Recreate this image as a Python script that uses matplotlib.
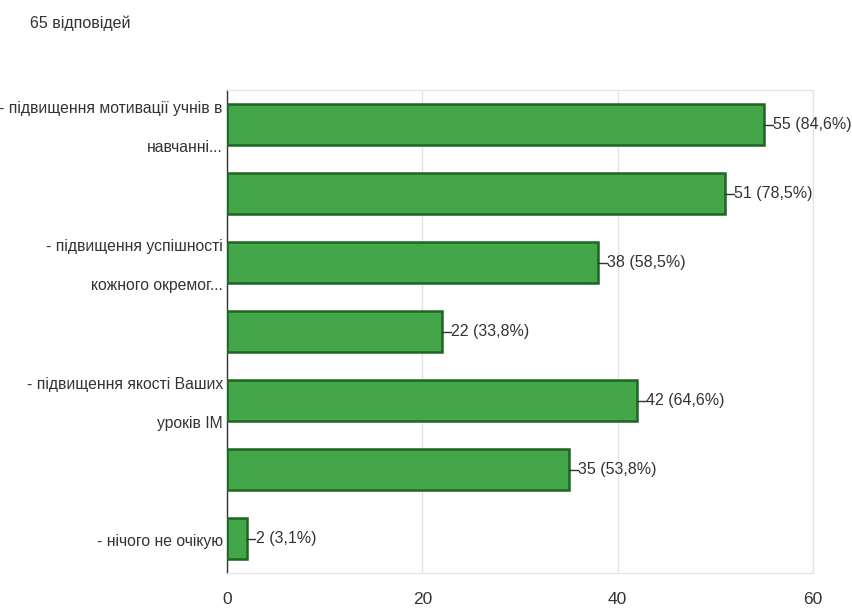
import matplotlib
matplotlib.use("Agg")
import matplotlib.pyplot as plt

# --- DATA ---
labels = [
    ["- підвищення мотивації учнів в", "навчанні..."],
    [],
    ["- підвищення успішності", "кожного окремог..."],
    [],
    ["- підвищення якості Ваших", "уроків ІМ"],
    [],
    ["- нічого не очікую"],
]
counts = [55, 51, 38, 22, 42, 35, 2]
percents = ["84,6%", "78,5%", "58,5%", "33,8%", "64,6%", "53,8%", "3,1%"]
total_text = "65 відповідей"
xticks = [0, 20, 40, 60]

plt.rcParams["font.family"] = ["Liberation Sans", "DejaVu Sans"]
TXT = "#333333"

fig = plt.figure(figsize=(8.52, 6.16), dpi=100)
ax = fig.add_axes([0.2664, 0.0698, 0.6878, 0.784])

ypos = list(range(len(counts)))
ax.barh(ypos, counts, height=0.6, color="#43a649", edgecolor="#1f6523",
        linewidth=1.8, zorder=3)

# value labels with small leader line
for y, c, p in zip(ypos, counts, percents):
    ax.plot([c, c + 0.9], [y, y], color=TXT, lw=1.0, zorder=4, clip_on=False)
    ax.text(c + 0.95, y, f"{c} ({p})", va="center", ha="left",
            fontsize=11.5, color=TXT)

# category labels (two lines, spaced like the original)
for y, lines in zip(ypos, labels):
    if len(lines) == 1:
        offs = [-2.5]
    else:
        offs = [11.5, -16.5]
    for line, off in zip(lines, offs):
        ax.annotate(line, xy=(0, y), xycoords=("axes fraction", "data"),
                    xytext=(-3, off), textcoords="offset points",
                    ha="right", va="center", fontsize=11.3, color=TXT)

ax.set_xlim(0, 60)
ax.set_ylim(len(counts) - 0.5, -0.5)
ax.set_xticks(xticks)
ax.set_xticklabels([str(t) for t in xticks], fontsize=12.5, color=TXT)
ax.set_yticks([])
ax.tick_params(axis="x", length=0, pad=14)

ax.grid(axis="x", color="#e2e2e2", lw=1.0, zorder=0)
ax.spines["left"].set_color(TXT)
ax.spines["left"].set_linewidth(1.0)
for s in ["top", "bottom", "right"]:
    ax.spines[s].set_color("#e2e2e2")

fig.text(30 / 852, 1 - 23 / 616, total_text, fontsize=11.5, color=TXT,
         va="center", ha="left")

fig.savefig("out.png", dpi=100)
